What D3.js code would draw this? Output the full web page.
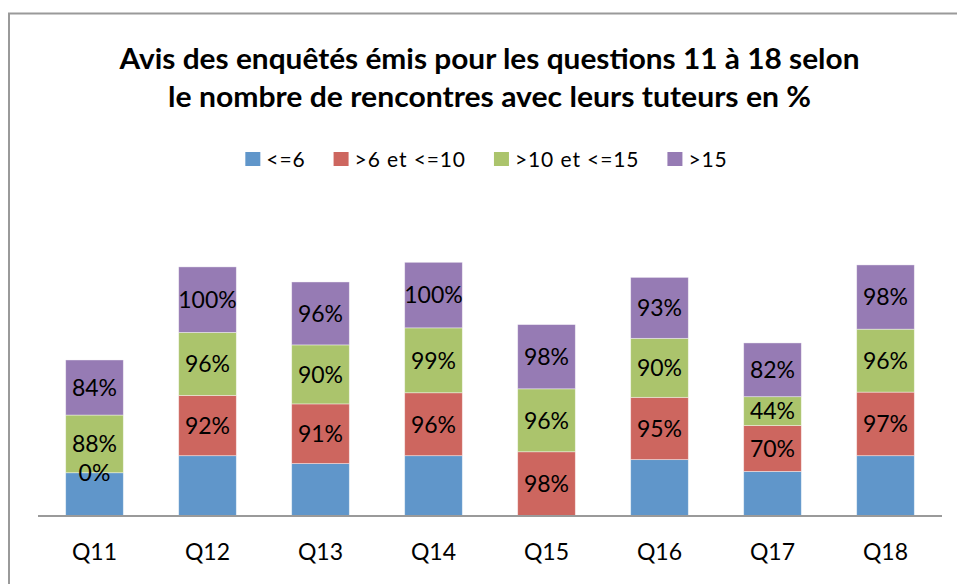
<!DOCTYPE html>
<html>
<head>
<meta charset="utf-8">
<script src="https://cdn.jsdelivr.net/npm/d3@7"></script>
<style>
  body { margin: 0; background: #fff; }
  svg { display: block; font-family: Lato, "Open Sans", sans-serif; }
</style>
</head>
<body>
<svg id="chart" width="957" height="584"></svg>
<script>
// categories and series (in %)
var categories = ['Q11', 'Q12', 'Q13', 'Q14', 'Q15', 'Q16', 'Q17', 'Q18'];
var seriesNames = ['<=6', '>6 et <=10', '>10 et <=15', '>15'];
var lte6 = [66, 92, 80, 92, 0, 86, 68, 92];
var gt6lte10 = [0, 92, 91, 96, 98, 95, 70, 97];
var gt10lte15 = [88, 96, 90, 99, 96, 90, 44, 96];
var gt15 = [84, 100, 96, 100, 98, 93, 82, 98];
var colors = ['#6096ca', '#cd665f', '#abc46c', '#967bb4'];
var titleLines = ['Avis des enquêtés émis pour les questions 11 à 18 selon',
                  'le nombre de rencontres avec leurs tuteurs en %'];

var W = 957, H = 584;
var BASE_Y = 516, TOP_Y = 221;
var LEFT = 38, RIGHT = 942;

var svg = d3.select('#chart');

// outer chart frame (only top and left edges fall inside the picture)
svg.append('rect')
    .attr('x', 9).attr('y', 13.5)
    .attr('width', 1000).attr('height', 700)
    .attr('fill', 'none')
    .attr('stroke', '#9a9a9a')
    .attr('stroke-width', 2);

// title, fitted to the widths of the original (Calibri) lines
var titleWidths = [740, 643];
var titleY = [69, 107];
titleLines.forEach(function(line, i) {
  svg.append('text')
      .attr('x', 489.5)
      .attr('y', titleY[i])
      .attr('text-anchor', 'middle')
      .attr('textLength', titleWidths[i])
      .attr('lengthAdjust', 'spacingAndGlyphs')
      .style('font-weight', 'bold')
      .style('font-size', '28px')
      .attr('fill', '#000')
      .text(line);
});

// legend
var legend = svg.append('g');
var cursor = 0;
seriesNames.forEach(function(name, i) {
  var g = legend.append('g').attr('transform', 'translate(' + cursor + ',0)');
  g.append('rect')
      .attr('x', 0).attr('y', 152)
      .attr('width', 15).attr('height', 14)
      .attr('fill', colors[i]);
  var t = g.append('text')
      .attr('x', 21).attr('y', 166.5)
      .style('font-size', '21px')
      .style('letter-spacing', '0.9px')
      .attr('fill', '#000')
      .text(name);
  cursor += 21 + t.node().getComputedTextLength() + 28;
});
var legendWidth = cursor - 28;
legend.attr('transform', 'translate(' + (486.5 - legendWidth / 2) + ',0)');

// scales
var x = d3.scaleBand()
    .domain(categories)
    .range([LEFT, RIGHT])
    .paddingInner(0.49)
    .paddingOuter(0.245);

var y = d3.scaleLinear()
    .domain([0, 450])
    .range([BASE_Y, TOP_Y]);

var table = categories.map(function(c, i) {
  return {cat: c, s0: lte6[i], s1: gt6lte10[i], s2: gt10lte15[i], s3: gt15[i]};
});
var stack = d3.stack().keys(['s0', 's1', 's2', 's3'])(table);

var layers = svg.append('g').selectAll('g')
    .data(stack)
  .enter().append('g')
    .attr('fill', function(d, i) { return colors[i]; });

layers.selectAll('rect')
    .data(function(d) { return d; })
  .enter().append('rect')
    .attr('x', function(d) { return x(d.data.cat); })
    .attr('y', function(d) { return y(d[1]); })
    .attr('width', x.bandwidth())
    .attr('height', function(d) { return y(d[0]) - y(d[1]); })
    .attr('stroke', 'rgba(255,255,255,0.5)')
    .attr('stroke-width', 0.8);

// value labels (the <=6 series carries none in the reference)
stack.forEach(function(layer, i) {
  if (i === 0) return;
  svg.append('g').selectAll('text')
      .data(layer)
    .enter().append('text')
      .attr('x', function(d) { return x(d.data.cat) + x.bandwidth() / 2; })
      .attr('y', function(d) { return (y(d[0]) + y(d[1])) / 2; })
      .attr('dy', '0.36em')
      .attr('text-anchor', 'middle')
      .style('font-size', '23px')
      .attr('fill', '#000')
      .text(function(d) { return (d[1] - d[0]) + '%'; });
});

// baseline
svg.append('line')
    .attr('x1', LEFT).attr('x2', RIGHT)
    .attr('y1', BASE_Y).attr('y2', BASE_Y)
    .attr('stroke', '#9a9a9a')
    .attr('stroke-width', 2);

// category labels
var xAxis = d3.axisBottom(x).tickSize(0).tickPadding(0);
var ax = svg.append('g')
    .attr('transform', 'translate(0,' + BASE_Y + ')')
    .call(xAxis);
ax.select('.domain').remove();
ax.selectAll('text')
    .attr('y', 44)
    .attr('dy', null)
    .style('font-family', 'Lato, "Open Sans", sans-serif')
    .style('font-size', '23px')
    .attr('fill', '#000');
</script>
</body>
</html>
